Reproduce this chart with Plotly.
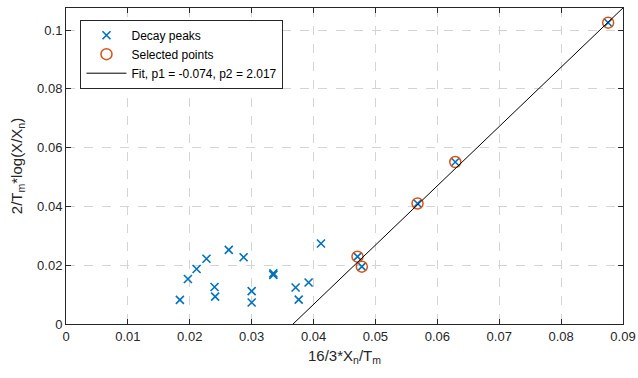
import plotly.graph_objects as go

# Data
peaks_x = [0.0184, 0.0197, 0.0211, 0.0227, 0.0240, 0.0241, 0.0263, 0.0287, 0.0300, 0.0300,
           0.0335, 0.0335, 0.0371, 0.0376, 0.0392, 0.0412, 0.0471, 0.0478, 0.0568, 0.0629, 0.0876]
peaks_y = [0.0082, 0.0153, 0.0187, 0.0222, 0.0126, 0.0093, 0.0252, 0.0227, 0.0112, 0.0073,
           0.0172, 0.0167, 0.0124, 0.0083, 0.0141, 0.0274, 0.0229, 0.0195, 0.0410, 0.0551, 0.1025]
sel_x = [0.0471, 0.0478, 0.0568, 0.0629, 0.0876]
sel_y = [0.0229, 0.0195, 0.0410, 0.0551, 0.1025]
p1 = -0.074
p2 = 2.017
fit_x = [0.0, 0.09]
fit_y = [p2 * v + p1 for v in fit_x]

x_ticks = [0, 0.01, 0.02, 0.03, 0.04, 0.05, 0.06, 0.07, 0.08, 0.09]
x_labels = ["0", "0.01", "0.02", "0.03", "0.04", "0.05", "0.06", "0.07", "0.08", "0.09"]
y_ticks = [0, 0.02, 0.04, 0.06, 0.08, 0.1]
y_labels = ["0", "0.02", "0.04", "0.06", "0.08", "0.1"]

BLUE = "#0072BD"
ORANGE = "#D95319"
AX = "#262626"
FONT = "Liberation Sans, Arial, Helvetica, sans-serif"

fig = go.Figure()
fig.add_trace(go.Scatter(
    x=peaks_x, y=peaks_y, mode="markers", name="Decay peaks",
    marker=dict(symbol="x-thin", size=8, color=BLUE, line=dict(color=BLUE, width=1.6)),
))
fig.add_trace(go.Scatter(
    x=sel_x, y=sel_y, mode="markers", name="Selected points",
    marker=dict(symbol="circle-open", size=11, color=ORANGE, line=dict(color=ORANGE, width=1.5)),
))
fig.add_trace(go.Scatter(
    x=fit_x, y=fit_y, mode="lines", name=f"Fit, p1 = {p1:.3f}, p2 = {p2:.3f}",
    line=dict(color="black", width=1),
))

axis_common = dict(
    showline=True, linecolor=AX, linewidth=1, mirror="ticks",
    ticks="inside", ticklen=5, tickwidth=1, tickcolor=AX,
    showgrid=True, gridcolor="#d4d4d4", griddash="dash", gridwidth=1,
    zeroline=False, automargin=False,
    tickfont=dict(family=FONT, size=13, color=AX),
    title_font=dict(family=FONT, size=15, color=AX),
)

fig.update_xaxes(
    range=[0, 0.09], tickmode="array", tickvals=x_ticks, ticktext=x_labels,
    title_text="16/3*X<sub>n</sub>/T<sub>m</sub>", title_standoff=7,
    **axis_common,
)
fig.update_yaxes(
    range=[0, 0.1075], tickmode="array", tickvals=y_ticks, ticktext=y_labels,
    title_text="2/T<sub>m</sub>*log(X/X<sub>n</sub>)", title_standoff=10,
    **axis_common,
)

fig.update_layout(
    width=638, height=378,
    margin=dict(l=66, r=15, t=8, b=54),
    paper_bgcolor="white", plot_bgcolor="white",
    font=dict(family=FONT, color=AX),
    legend=dict(
        x=0.026, y=0.963, xanchor="left", yanchor="top",
        bgcolor="white", bordercolor=AX, borderwidth=1,
        font=dict(family=FONT, size=12, color="black"),
        itemwidth=40, tracegroupgap=0,
    ),
)

fig.write_html(
    "out.html",
    config={"displayModeBar": False},
    post_script="document.body.style.margin='0';document.body.style.overflow='hidden';",
)
